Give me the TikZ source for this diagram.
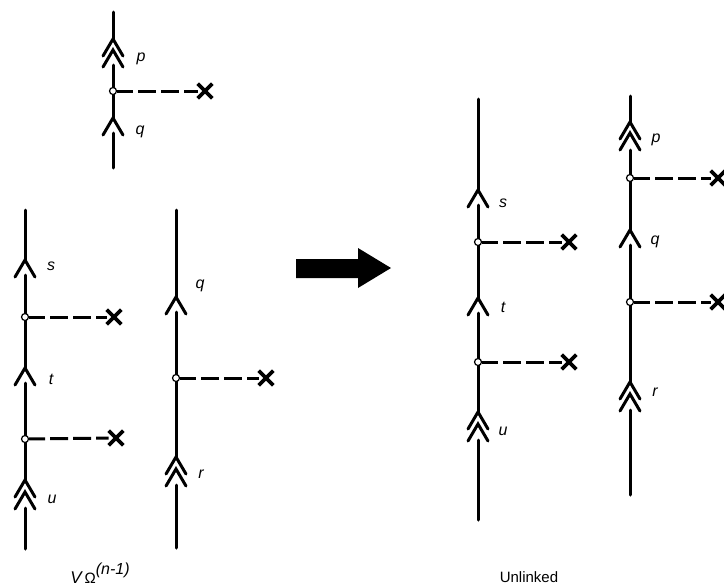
\documentclass[tikz,border=0pt]{standalone}
\usepackage{fontspec}
\setmainfont{Liberation Sans}
\usetikzlibrary{shapes.misc}
\tikzset{
  x=1pt,y=-1pt,
  fermion/.style={line width=3pt,line cap=round},
  chevron/.style={line width=3pt,line cap=round,line join=miter,miter limit=3},
  potential/.style={line width=3pt,dash pattern=on 18pt off 5pt,dash phase=2pt},
  vertexdot/.style={circle,draw,fill=white,line width=1.2pt,inner sep=0pt,minimum size=7pt},
  extern/.style={cross out,draw,line width=3.6pt,inner sep=0pt,minimum size=11pt},
  lab/.style={font=\itshape\fontsize{16}{16}\selectfont,inner sep=0pt},
  caption/.style={font=\fontsize{15}{15}\selectfont,inner sep=0pt}
}
\newcommand{\onechev}[2]{\draw[chevron] (#1-10,#2+17) -- (#1,#2) -- (#1+10,#2+17);}
\begin{document}
\begin{tikzpicture}
\useasboundingbox (0,0) rectangle (724,587);
% top diagram
\coordinate (a0) at (113,12); \coordinate (a1) at (113,39); \coordinate (a2) at (113,65);
\coordinate (a3) at (113,118); \coordinate (a4) at (113,133); \coordinate (a5) at (113,168);
\node[extern] (ax) at (205,91) {};
\draw[fermion] (a0) -- (a1) (a2) -- (a3) (a4) -- (a5);
\onechev{113}{39}\onechev{113}{50}\onechev{113}{118}
\node[vertexdot] (av) at (113,91) {};
\draw[potential] (av) -- (ax);
\node[lab] (ap) at (141,59) {p};
\node[lab] (aq) at (140,132) {q};
% left strand
\coordinate (b0) at (25,210); \coordinate (b1) at (25,260); \coordinate (b2) at (25,275);
\coordinate (b3) at (25,368); \coordinate (b4) at (25,383); \coordinate (b5) at (25,480);
\coordinate (b6) at (25,508); \coordinate (b7) at (25,549);
\node[extern] (bx1) at (114,317) {};
\node[extern] (bx2) at (116,438) {};
\draw[fermion] (b0) -- (b1) (b2) -- (b3) (b4) -- (b5) (b6) -- (b7);
\onechev{25}{260}\onechev{25}{368}\onechev{25}{480}\onechev{25}{492}
\node[vertexdot] (bv1) at (25,317) {};
\node[vertexdot] (bv2) at (25,439) {};
\draw[potential] (bv1) -- (bx1);
\draw[potential] (bv2) -- (bx2);
\node[lab] (bs) at (51,266) {s};
\node[lab] (bt) at (51,379) {t};
\node[lab] (bu) at (52,499) {u};
% middle strand
\coordinate (c0) at (176,210); \coordinate (c1) at (176,297); \coordinate (c2) at (176,312);
\coordinate (c3) at (176,457); \coordinate (c4) at (176,485); \coordinate (c5) at (176,548);
\node[extern] (cx) at (266,378) {};
\draw[fermion] (c0) -- (c1) (c2) -- (c3) (c4) -- (c5);
\onechev{176}{297}\onechev{176}{457}\onechev{176}{469}
\node[vertexdot] (cv) at (176,378) {};
\draw[potential] (cv) -- (cx);
\node[lab] (cq) at (200,286) {q};
\node[lab] (cr) at (201,474) {r};
\node[font=\itshape\fontsize{17}{17}\selectfont,inner sep=0pt] (capl) at (100,573) {V\,{\upshape\fontsize{15}{15}\selectfont Ω}\raisebox{9pt}{\fontsize{16}{16}\selectfont (n-1)}};
% big arrow
\fill (296,259) -- (358,259) -- (358,248) -- (391,268) -- (358,288) -- (358,278) -- (296,278) -- cycle;
% right strand 1
\coordinate (d0) at (478,99); \coordinate (d1) at (478,190); \coordinate (d2) at (478,205);
\coordinate (d3) at (478,298); \coordinate (d4) at (478,313); \coordinate (d5) at (478,412);
\coordinate (d6) at (478,440); \coordinate (d7) at (478,520);
\node[extern] (dx1) at (569,242) {};
\node[extern] (dx2) at (569,362) {};
\draw[fermion] (d0) -- (d1) (d2) -- (d3) (d4) -- (d5) (d6) -- (d7);
\onechev{478}{190}\onechev{478}{298}\onechev{478}{412}\onechev{478}{424}
\node[vertexdot] (dv1) at (478,242) {};
\node[vertexdot] (dv2) at (478,362) {};
\draw[potential] (dv1) -- (dx1);
\draw[potential] (dv2) -- (dx2);
\node[lab] (ds) at (503,203) {s};
\node[lab] (dt) at (503,307) {t};
\node[lab] (du) at (503,431) {u};
% right strand 2
\coordinate (e0) at (630,96); \coordinate (e1) at (630,122); \coordinate (e2) at (630,150);
\coordinate (e3) at (630,230); \coordinate (e4) at (630,245); \coordinate (e5) at (630,382);
\coordinate (e6) at (630,410); \coordinate (e7) at (630,495);
\node[extern] (ex1) at (718,178) {};
\node[extern] (ex2) at (718,302) {};
\draw[fermion] (e0) -- (e1) (e2) -- (e3) (e4) -- (e5) (e6) -- (e7);
\onechev{630}{122}\onechev{630}{133}\onechev{630}{230}\onechev{630}{382}\onechev{630}{394}
\node[vertexdot] (ev1) at (630,178) {};
\node[vertexdot] (ev2) at (630,302) {};
\draw[potential] (ev1) -- (ex1);
\draw[potential] (ev2) -- (ex2);
\node[lab] (ep) at (656,140) {p};
\node[lab] (eq) at (655,242) {q};
\node[lab] (er) at (655,392) {r};
\node[caption] (capr) at (529,577) {Unlinked};
\end{tikzpicture}
\end{document}
